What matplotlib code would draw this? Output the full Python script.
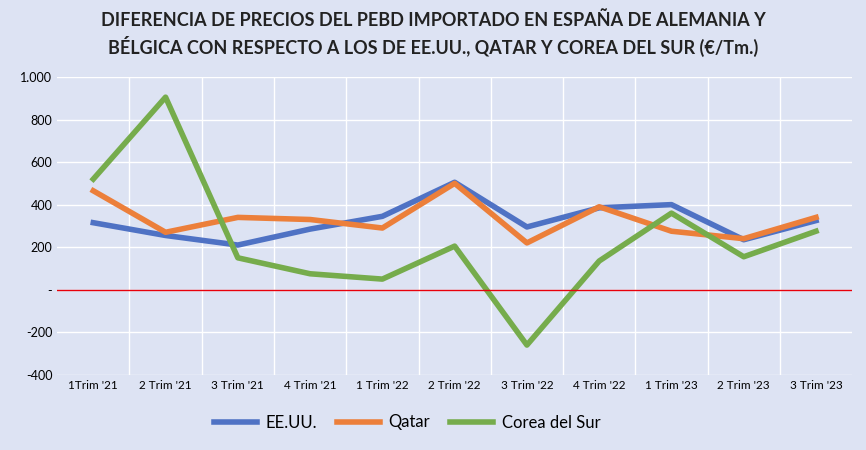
import matplotlib.pyplot as plt
from matplotlib.ticker import FuncFormatter

plt.rcParams['font.family'] = ['Lato', 'DejaVu Sans']

trimestres = ["1Trim '21", "2 Trim '21", "3 Trim '21", "4 Trim '21", "1 Trim '22", "2 Trim '22",
              "3 Trim '22", "4 Trim '22", "1 Trim '23", "2 Trim '23", "3 Trim '23"]
eeuu = [315, 255, 210, 285, 345, 505, 295, 385, 400, 235, 325]
qatar = [465, 270, 340, 330, 290, 500, 220, 390, 275, 240, 340]
corea = [520, 905, 150, 75, 50, 205, -260, 135, 360, 155, 275]

bg = '#dde3f3'
fig = plt.figure(figsize=[8.66, 4.5], dpi=100, facecolor=bg)
ax = fig.add_axes([0.066, 0.167, 0.918, 0.662], facecolor=bg)

x = range(len(trimestres))
ax.plot(x, eeuu, color='#4f72c4', linewidth=4, label='EE.UU.')
ax.plot(x, qatar, color='#ec7f3a', linewidth=4, label='Qatar')
ax.plot(x, corea, color='#76ac4c', linewidth=4, label='Corea del Sur')
ax.axhline(0, color='#e8000b', linewidth=1, zorder=3)

ax.set_xlim(-0.5, len(trimestres) - 0.5)
ax.set_ylim(-400, 1000)
ax.set_yticks(range(-400, 1001, 200))
ax.set_xticks([i + 0.5 for i in x[:-1]], minor=True)
ax.set_xticks(list(x))
ax.set_xticklabels(trimestres, fontsize=8.5)
ax.yaxis.set_major_formatter(FuncFormatter(
    lambda v, p: '-' if v == 0 else f'{int(v):,}'.replace(',', '.')))
ax.tick_params(axis='y', labelsize=9, length=0)
ax.tick_params(axis='x', which='both', length=0)
ax.grid(True, axis='y', color='white', linewidth=1)
ax.grid(True, axis='x', which='minor', color='white', linewidth=1)
for s in ax.spines.values():
    s.set_visible(False)

fig.suptitle('DIFERENCIA DE PRECIOS DEL PEBD IMPORTADO EN ESPAÑA DE ALEMANIA Y\n'
             'BÉLGICA CON RESPECTO A LOS DE EE.UU., QATAR Y COREA DEL SUR (€/Tm.)',
             y=0.975, fontsize=13, fontweight='bold', color='#222222', linespacing=1.4)
fig.legend(loc='lower center', bbox_to_anchor=(0.47, 0.01), ncol=3, frameon=False,
           fontsize=12, handlelength=2.6, columnspacing=1.2, handletextpad=0.5)

fig.savefig('out.png', dpi=100, facecolor=bg)
